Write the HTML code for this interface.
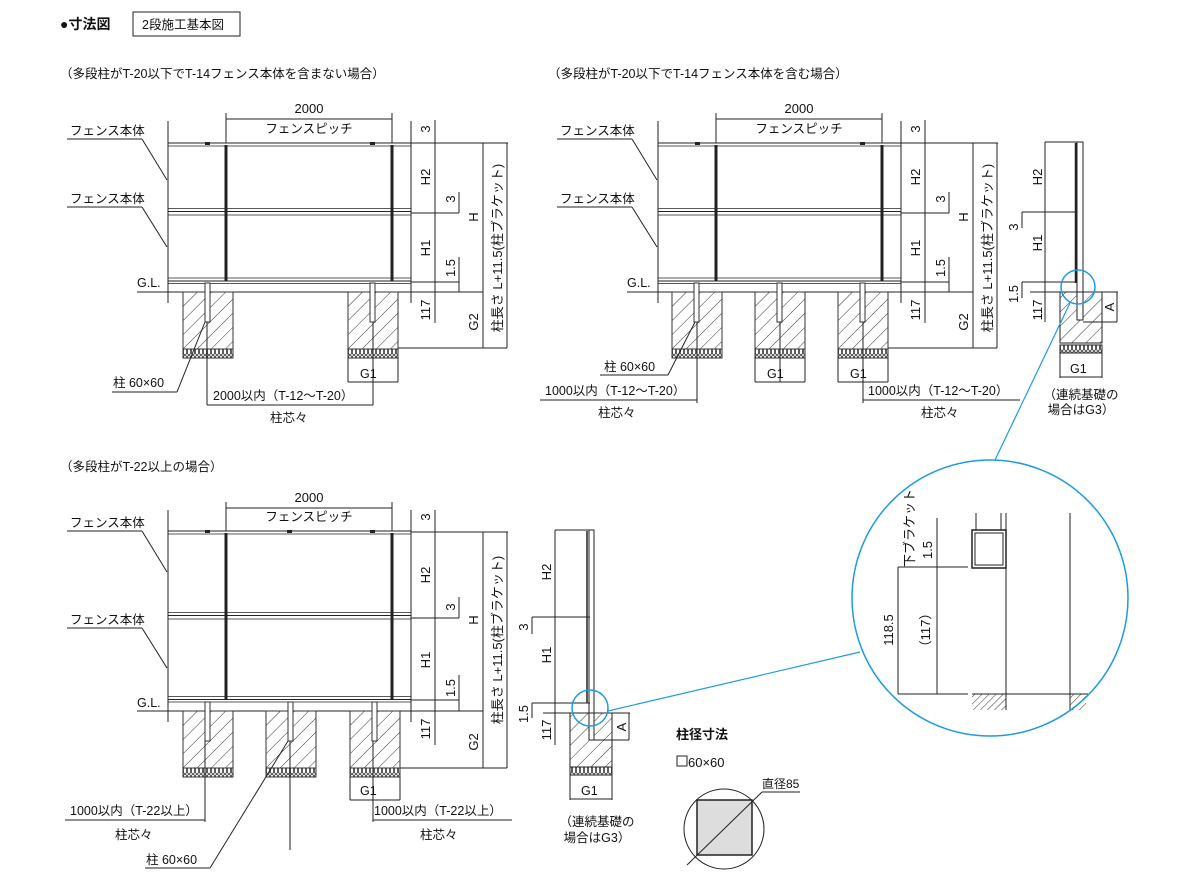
<!DOCTYPE html>
<html><head><meta charset="utf-8"><style>
html,body{margin:0;padding:0;background:#fff}
svg{display:block}
text{font-family:"Liberation Sans","Noto Sans CJK JP",sans-serif;fill:#111;font-size:12.5px}
.d{font-size:13px}
</style></head><body>
<svg width="1184" height="888" viewBox="0 0 1184 888" xmlns="http://www.w3.org/2000/svg">
<defs>
<pattern id="h" width="10" height="10" patternUnits="userSpaceOnUse" patternTransform="rotate(45)">
<line x1="0" y1="0" x2="0" y2="10" stroke="#333" stroke-width="1"/></pattern>
<pattern id="hs" width="5" height="5" patternUnits="userSpaceOnUse" patternTransform="rotate(45)">
<line x1="0" y1="0" x2="0" y2="5" stroke="#333" stroke-width="1"/></pattern>
<pattern id="st" width="4" height="9" patternUnits="userSpaceOnUse">
<rect x="0.5" y="0.5" width="3" height="8" rx="1.5" fill="#fff" stroke="#333" stroke-width="0.8"/></pattern>
<g id="ft">
<rect x="0" y="0" width="50" height="57" fill="url(#h)" stroke="#333"/>
<rect x="0" y="57" width="50" height="9" fill="url(#st)" stroke="#333"/>
<rect x="22" y="-9" width="5" height="39" fill="#fff" stroke="#333"/>
</g>
</defs>
<g stroke="#222" fill="none" stroke-width="1">
<rect x="133" y="12" width="107" height="24"/>
</g>
<text x="60" y="29" style="font-weight:bold;font-size:14px">●寸法図</text>
<text x="142" y="29">2段施工基本図</text>
<text x="60" y="78">（多段柱がT-20以下でT-14フェンス本体を含まない場合）</text>
<text x="548" y="78">（多段柱がT-20以下でT-14フェンス本体を含む場合）</text>
<text x="60" y="471">（多段柱がT-22以上の場合）</text>

<!-- ============ TOP LEFT ============ -->
<g id="TL">
<g stroke="#222" fill="none">
<line x1="168" y1="121" x2="168" y2="303"/>
<line x1="168" y1="143" x2="411" y2="143"/>
<line x1="168" y1="146" x2="411" y2="146" stroke-width="0.8"/>
<line x1="168" y1="208.5" x2="411" y2="208.5" stroke-width="0.8"/>
<line x1="168" y1="211.5" x2="411" y2="211.5"/>
<line x1="168" y1="215" x2="411" y2="215" stroke-width="0.8"/>
<line x1="168" y1="278" x2="411" y2="278" stroke-width="0.8"/>
<line x1="168" y1="281" x2="411" y2="281"/>
<line x1="168" y1="283.5" x2="411" y2="283.5" stroke-width="0.8"/>
<line x1="226" y1="145" x2="226" y2="281" stroke-width="3"/>
<line x1="392" y1="145" x2="392" y2="281" stroke-width="3"/>
<line x1="226" y1="113" x2="226" y2="143"/>
<line x1="392" y1="113" x2="392" y2="143"/>
<line x1="226" y1="119" x2="392" y2="119"/>
<line x1="411" y1="121" x2="411" y2="303"/>
<line x1="435" y1="120" x2="435" y2="323"/>
<line x1="411" y1="143" x2="508" y2="143"/>
<line x1="411" y1="213" x2="459" y2="213"/>
<line x1="459" y1="192" x2="459" y2="213"/>
<line x1="411" y1="282" x2="459" y2="282"/>
<line x1="459" y1="257" x2="459" y2="292"/>
<line x1="137" y1="292" x2="483" y2="292"/>
<line x1="483" y1="143" x2="483" y2="348"/>
<line x1="507" y1="143" x2="507" y2="348"/>
<line x1="398" y1="348" x2="507" y2="348"/>
<line x1="67" y1="139" x2="142" y2="139"/><line x1="142" y1="139" x2="167" y2="180"/>
<line x1="67" y1="207" x2="142" y2="207"/><line x1="142" y1="207" x2="167" y2="247"/>
</g>
<rect x="205" y="142" width="5" height="3" fill="#222"/><rect x="370" y="142" width="5" height="3" fill="#222"/>
<text x="309" y="113" text-anchor="middle" class="d">2000</text>
<text x="309" y="133" text-anchor="middle">フェンスピッチ</text>
<text x="70" y="135">フェンス本体</text>
<text x="70" y="203">フェンス本体</text>
<text x="137" y="287">G.L.</text>
<text class="d" transform="rotate(-90 430 129)" x="430" y="129" text-anchor="middle">3</text>
<text class="d" transform="rotate(-90 430 177)" x="430" y="177" text-anchor="middle">H2</text>
<text class="d" transform="rotate(-90 455 199)" x="455" y="199" text-anchor="middle">3</text>
<text class="d" transform="rotate(-90 430 248)" x="430" y="248" text-anchor="middle">H1</text>
<text class="d" transform="rotate(-90 455 268)" x="455" y="268" text-anchor="middle">1.5</text>
<text class="d" transform="rotate(-90 430 310)" x="430" y="310" text-anchor="middle">117</text>
<text class="d" transform="rotate(-90 478 217)" x="478" y="217" text-anchor="middle">H</text>
<text class="d" transform="rotate(-90 478 322)" x="478" y="322" text-anchor="middle">G2</text>
<text class="d" transform="rotate(-90 502 248)" x="502" y="248" text-anchor="middle">柱長さ L+11.5(柱ブラケット)</text>
</g>
<use href="#ft" x="183" y="292"/>
<use href="#ft" x="348" y="292"/>
<g stroke="#222" fill="none">
<line x1="348" y1="357" x2="348" y2="382"/><line x1="398" y1="357" x2="398" y2="382"/><line x1="348" y1="382" x2="398" y2="382"/>
<line x1="207" y1="322" x2="207" y2="405"/><line x1="373" y1="322" x2="373" y2="405"/><line x1="207" y1="405" x2="373" y2="405"/>
<line x1="112" y1="392" x2="177" y2="392"/><line x1="177" y1="392" x2="205" y2="322"/>
</g>
<text x="360" y="378">G1</text>
<text x="213" y="400">2000以内（T-12〜T-20）</text>
<text x="270" y="422">柱芯々</text>
<text x="113" y="387">柱 60×60</text>

<!-- ============ TOP RIGHT ============ -->
<use href="#TL" x="490" y="0"/>
<use href="#ft" x="672" y="292"/>
<use href="#ft" x="755" y="292"/>
<use href="#ft" x="838" y="292"/>
<g stroke="#222" fill="none">
<line x1="755" y1="357" x2="755" y2="382"/><line x1="805" y1="357" x2="805" y2="382"/><line x1="755" y1="382" x2="805" y2="382"/>
<line x1="838" y1="357" x2="838" y2="382"/><line x1="888" y1="357" x2="888" y2="382"/><line x1="838" y1="382" x2="888" y2="382"/>
<line x1="697" y1="322" x2="697" y2="403"/><line x1="540" y1="400" x2="697" y2="400"/>
<line x1="780" y1="322" x2="780" y2="382"/>
<line x1="863" y1="322" x2="863" y2="403"/><line x1="863" y1="400" x2="1020" y2="400"/>
<line x1="600" y1="375" x2="668" y2="375"/><line x1="668" y1="375" x2="695" y2="322"/>
</g>
<text x="767" y="378">G1</text><text x="850" y="378">G1</text>
<text x="545" y="395">1000以内（T-12〜T-20）</text>
<text x="598" y="417">柱芯々</text>
<text x="868" y="395">1000以内（T-12〜T-20）</text>
<text x="921" y="417">柱芯々</text>
<text x="604" y="371">柱 60×60</text>

<!-- section top right -->
<g stroke="#222" fill="none">
<rect x="1060" y="292" width="42" height="51" fill="url(#h)"/>
<rect x="1060" y="345" width="42" height="8" fill="url(#st)"/>
<rect x="1077" y="142" width="6" height="178" fill="#fff"/>
<line x1="1076" y1="143" x2="1076" y2="283" stroke-width="2.5"/>
<line x1="1045" y1="142" x2="1077" y2="142"/>
<line x1="1045" y1="142" x2="1045" y2="322"/>
<line x1="1022" y1="212" x2="1077" y2="212"/><line x1="1022" y1="212" x2="1022" y2="228"/>
<line x1="1022" y1="282" x2="1077" y2="282"/><line x1="1022" y1="282" x2="1022" y2="298"/>
<line x1="1030" y1="292" x2="1118" y2="292"/>
<line x1="1117" y1="292" x2="1117" y2="322"/><line x1="1083" y1="322" x2="1117" y2="322"/>
<line x1="1060" y1="353" x2="1060" y2="378"/><line x1="1102" y1="353" x2="1102" y2="378"/><line x1="1060" y1="377" x2="1102" y2="377"/>
</g>
<text class="d" transform="rotate(-90 1042 177)" x="1042" y="177" text-anchor="middle">H2</text>
<text class="d" transform="rotate(-90 1018 227)" x="1018" y="227" text-anchor="middle">3</text>
<text class="d" transform="rotate(-90 1042 243)" x="1042" y="243" text-anchor="middle">H1</text>
<text class="d" transform="rotate(-90 1018 294)" x="1018" y="294" text-anchor="middle">1.5</text>
<text class="d" transform="rotate(-90 1042 310)" x="1042" y="310" text-anchor="middle">117</text>
<text class="d" transform="rotate(-90 1114 307)" x="1114" y="307" text-anchor="middle">A</text>
<text x="1070" y="373">G1</text>
<text x="1081" y="399" text-anchor="middle">（連続基礎の</text>
<text x="1081" y="414" text-anchor="middle">場合はG3）</text>
<circle cx="1078" cy="287" r="17" fill="none" stroke="#1e9be0" stroke-width="1.5"/>
<line x1="1070" y1="303" x2="995" y2="460" stroke="#1e9be0" stroke-width="1.2"/>

<!-- ============ BOTTOM LEFT ============ -->
<g stroke="#222" fill="none">
<line x1="168" y1="510" x2="168" y2="722"/>
<line x1="168" y1="531" x2="411" y2="531"/>
<line x1="168" y1="534" x2="411" y2="534" stroke-width="0.8"/>
<line x1="168" y1="612.5" x2="411" y2="612.5" stroke-width="0.8"/>
<line x1="168" y1="615.5" x2="411" y2="615.5"/>
<line x1="168" y1="619" x2="411" y2="619" stroke-width="0.8"/>
<line x1="168" y1="696.5" x2="411" y2="696.5" stroke-width="0.8"/>
<line x1="168" y1="699.5" x2="411" y2="699.5"/>
<line x1="168" y1="702" x2="411" y2="702" stroke-width="0.8"/>
<line x1="226" y1="533" x2="226" y2="699" stroke-width="3"/>
<line x1="392" y1="533" x2="392" y2="699" stroke-width="3"/>
<line x1="226" y1="502" x2="226" y2="531"/><line x1="392" y1="502" x2="392" y2="531"/>
<line x1="226" y1="508" x2="392" y2="508"/>
<line x1="411" y1="510" x2="411" y2="722"/>
<line x1="435" y1="510" x2="435" y2="745"/>
<line x1="411" y1="532" x2="508" y2="532"/>
<line x1="411" y1="618" x2="459" y2="618"/><line x1="459" y1="597" x2="459" y2="618"/>
<line x1="411" y1="700" x2="459" y2="700"/><line x1="459" y1="675" x2="459" y2="711"/>
<line x1="137" y1="711" x2="483" y2="711"/>
<line x1="483" y1="532" x2="483" y2="768"/>
<line x1="507" y1="532" x2="507" y2="768"/>
<line x1="400" y1="768" x2="507" y2="768"/>
<line x1="67" y1="531" x2="142" y2="531"/><line x1="142" y1="531" x2="167" y2="572"/>
<line x1="67" y1="628" x2="142" y2="628"/><line x1="142" y1="628" x2="167" y2="668"/>
</g>
<rect x="205" y="530" width="5" height="3" fill="#222"/><rect x="287" y="530" width="5" height="3" fill="#222"/><rect x="370" y="530" width="5" height="3" fill="#222"/>
<text x="309" y="502" text-anchor="middle" class="d">2000</text>
<text x="309" y="521" text-anchor="middle">フェンスピッチ</text>
<text x="70" y="527">フェンス本体</text>
<text x="70" y="624">フェンス本体</text>
<text x="137" y="707">G.L.</text>
<text class="d" transform="rotate(-90 430 517)" x="430" y="517" text-anchor="middle">3</text>
<text class="d" transform="rotate(-90 430 575)" x="430" y="575" text-anchor="middle">H2</text>
<text class="d" transform="rotate(-90 455 607)" x="455" y="607" text-anchor="middle">3</text>
<text class="d" transform="rotate(-90 430 660)" x="430" y="660" text-anchor="middle">H1</text>
<text class="d" transform="rotate(-90 455 688)" x="455" y="688" text-anchor="middle">1.5</text>
<text class="d" transform="rotate(-90 430 729)" x="430" y="729" text-anchor="middle">117</text>
<text class="d" transform="rotate(-90 478 620)" x="478" y="620" text-anchor="middle">H</text>
<text class="d" transform="rotate(-90 478 742)" x="478" y="742" text-anchor="middle">G2</text>
<text class="d" transform="rotate(-90 502 640)" x="502" y="640" text-anchor="middle">柱長さ L+11.5(柱ブラケット)</text>
<use href="#ft" x="183" y="711"/>
<use href="#ft" x="266" y="711"/>
<use href="#ft" x="350" y="711"/>
<g stroke="#222" fill="none">
<line x1="350" y1="777" x2="350" y2="800"/><line x1="400" y1="777" x2="400" y2="800"/><line x1="350" y1="800" x2="400" y2="800"/>
<line x1="205" y1="741" x2="205" y2="822"/><line x1="65" y1="820" x2="205" y2="820"/>
<line x1="290" y1="741" x2="290" y2="850"/>
<line x1="373" y1="741" x2="373" y2="822"/><line x1="373" y1="820" x2="512" y2="820"/>
<line x1="145" y1="868" x2="210" y2="868"/><line x1="210" y1="868" x2="288" y2="741"/>
</g>
<text x="360" y="795">G1</text>
<text x="70" y="815">1000以内（T-22以上）</text>
<text x="115" y="839">柱芯々</text>
<text x="374" y="815">1000以内（T-22以上）</text>
<text x="420" y="839">柱芯々</text>
<text x="146" y="864">柱 60×60</text>

<!-- section bottom -->
<g stroke="#222" fill="none">
<rect x="570" y="713" width="42" height="54" fill="url(#h)"/>
<rect x="570" y="767" width="42" height="8" fill="url(#st)"/>
<rect x="589" y="530" width="5" height="210" fill="#fff"/>
<line x1="587" y1="531" x2="587" y2="703" stroke-width="1.5"/>
<line x1="555" y1="530" x2="590" y2="530"/>
<line x1="555" y1="530" x2="555" y2="745"/>
<line x1="532" y1="617" x2="590" y2="617"/><line x1="532" y1="617" x2="532" y2="634"/>
<line x1="532" y1="703" x2="590" y2="703"/><line x1="532" y1="703" x2="532" y2="718"/>
<line x1="543" y1="713" x2="630" y2="713"/>
<line x1="629" y1="713" x2="629" y2="740"/><line x1="594" y1="740" x2="629" y2="740"/>
<line x1="570" y1="775" x2="570" y2="800"/><line x1="612" y1="775" x2="612" y2="800"/><line x1="570" y1="799" x2="612" y2="799"/>
</g>
<text class="d" transform="rotate(-90 551 572)" x="551" y="572" text-anchor="middle">H2</text>
<text class="d" transform="rotate(-90 528 627)" x="528" y="627" text-anchor="middle">3</text>
<text class="d" transform="rotate(-90 551 655)" x="551" y="655" text-anchor="middle">H1</text>
<text class="d" transform="rotate(-90 528 714)" x="528" y="714" text-anchor="middle">1.5</text>
<text class="d" transform="rotate(-90 551 730)" x="551" y="730" text-anchor="middle">117</text>
<text class="d" transform="rotate(-90 626 727)" x="626" y="727" text-anchor="middle">A</text>
<text x="581" y="795">G1</text>
<text x="597" y="826" text-anchor="middle">（連続基礎の</text>
<text x="597" y="842" text-anchor="middle">場合はG3）</text>
<circle cx="590" cy="708" r="18" fill="none" stroke="#1e9be0" stroke-width="1.5"/>
<line x1="608" y1="711" x2="860" y2="652" stroke="#1e9be0" stroke-width="1.2"/>

<!-- big detail circle -->
<g stroke="#222" fill="none">
<line x1="976" y1="513" x2="976" y2="530"/><line x1="1001" y1="513" x2="1001" y2="530"/>
<line x1="1006" y1="513" x2="1006" y2="710"/>
<line x1="1070" y1="513" x2="1070" y2="710"/>
<rect x="972" y="530" width="34" height="38" stroke-width="1.5"/>
<rect x="975" y="533" width="28" height="32"/>
<line x1="898" y1="567" x2="968" y2="567"/>
<line x1="937" y1="518" x2="937" y2="694"/>
<line x1="898" y1="567" x2="898" y2="694"/>
<line x1="898" y1="694" x2="968" y2="694"/>
<line x1="972" y1="694" x2="1088" y2="694"/>
<rect x="972" y="694" width="34" height="16" fill="url(#hs)" stroke="none"/>
<rect x="1070" y="694" width="16" height="16" fill="url(#hs)" stroke="none"/>
</g>
<text class="d" transform="rotate(-90 914 528)" x="914" y="528" text-anchor="middle">下ブラケット</text>
<text class="d" transform="rotate(-90 932 550)" x="932" y="550" text-anchor="middle">1.5</text>
<text class="d" transform="rotate(-90 893 630)" x="893" y="630" text-anchor="middle">118.5</text>
<text class="d" transform="rotate(-90 930 630)" x="930" y="630" text-anchor="middle">（117）</text>
<circle cx="990" cy="598" r="138" fill="none" stroke="#1e9be0" stroke-width="1.5"/>

<!-- post size -->
<text x="676" y="739" style="font-weight:bold;font-size:13px">柱径寸法</text>
<rect x="677" y="756" width="10" height="10" fill="none" stroke="#222"/>
<text x="688" y="767" class="d">60×60</text>
<circle cx="724" cy="829" r="40" fill="none" stroke="#222"/>
<rect x="697" y="800" width="55" height="55" fill="#ddd" stroke="#222" stroke-width="1.5"/>
<g stroke="#222" fill="none">
<line x1="687" y1="865" x2="762" y2="792"/>
<line x1="762" y1="792" x2="800" y2="792"/>
</g>
<text x="762" y="788" style="font-size:12px">直径85</text>
</svg>
</body></html>
